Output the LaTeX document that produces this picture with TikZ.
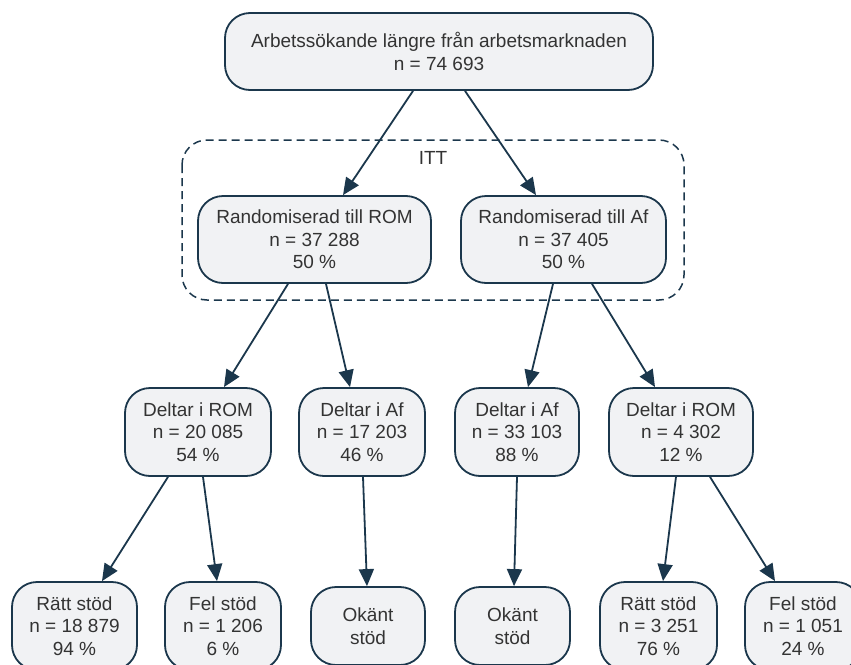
\documentclass[tikz,border=0pt]{standalone}
\usepackage{fontspec}
\setmainfont{Liberation Sans}
\usepackage{tikz}
\usetikzlibrary{arrows.meta}
\definecolor{boxline}{HTML}{1B374C}
\definecolor{boxfill}{HTML}{F1F2F4}
\definecolor{boxtext}{HTML}{333333}

\begin{document}
\begin{tikzpicture}[x=1pt,y=-1pt,
	box/.style={draw=boxline,fill=boxfill,text=boxtext,line width=1.8pt,rounded corners=25pt,
		align=center,inner sep=0pt,font=\fontsize{19}{22.5}\selectfont},
	link/.style={draw=boxline,line width=1.8pt,-{Triangle[length=17pt,width=15pt]}}]

	\useasboundingbox (0,0) rectangle (851,664);

	% ITT group

	\draw[boxline,line width=1.5pt,dash pattern=on 8pt off 5pt,rounded corners=25pt] (182,140) rectangle (684,300);
	\node[text=boxtext,font=\fontsize{19}{22.5}\selectfont] (itt) at (433,158) {ITT};

	% boxes

	\node[box,minimum width=428pt,minimum height=77pt] (top) at (439,51.5) {Arbetssökande längre från arbetsmarknaden\\n = 74 693};

	\node[box,minimum width=233pt,minimum height=87pt] (rom) at (314.5,239.5) {Randomiserad till ROM\\n = 37 288\\50 \%};
	\node[box,minimum width=205pt,minimum height=87pt] (af) at (563.5,239.5) {Randomiserad till Af\\n = 37 405\\50 \%};

	\node[box,minimum width=146pt,minimum height=88pt] (dromA) at (198,432) {Deltar i ROM\\n = 20 085\\54 \%};
	\node[box,minimum width=126pt,minimum height=88pt] (dafA) at (362,432) {Deltar i Af\\n = 17 203\\46 \%};
	\node[box,minimum width=124pt,minimum height=88pt] (dafB) at (517,432) {Deltar i Af\\n = 33 103\\88 \%};
	\node[box,minimum width=144pt,minimum height=88pt] (dromB) at (681,432) {Deltar i ROM\\n = 4 302\\12 \%};

	\node[box,minimum width=125pt,minimum height=88pt] (rattA) at (74.5,626) {Rätt stöd\\n = 18 879\\94 \%};
	\node[box,minimum width=116pt,minimum height=88pt] (felA) at (223,626) {Fel stöd\\n = 1 206\\6 \%};
	\node[box,minimum width=114pt,minimum height=78pt] (okandA) at (368,626) {Okänt\\stöd};
	\node[box,minimum width=115pt,minimum height=78pt] (okandB) at (512.5,626) {Okänt\\stöd};
	\node[box,minimum width=117pt,minimum height=88pt] (rattB) at (658.5,626) {Rätt stöd\\n = 3 251\\76 \%};
	\node[box,minimum width=116pt,minimum height=88pt] (felB) at (803,626) {Fel stöd\\n = 1 051\\24 \%};

	% arrows

	\draw[link] ([xshift=-26pt]top.south) -- ([xshift=28.5pt]rom.north);
	\draw[link] ([xshift=26pt]top.south) -- ([xshift=-27.5pt]af.north);

	\draw[link] ([xshift=-26.5pt]rom.south) -- ([xshift=26pt]dromA.north);
	\draw[link] ([xshift=11.5pt]rom.south) -- ([xshift=-12pt]dafA.north);
	\draw[link] ([xshift=-10.5pt]af.south) -- ([xshift=11pt]dafB.north);
	\draw[link] ([xshift=28.5pt]af.south) -- ([xshift=-26pt]dromB.north);

	\draw[link] ([xshift=-30pt]dromA.south) -- ([xshift=27.5pt]rattA.north);
	\draw[link] ([xshift=5pt]dromA.south) -- ([xshift=-6pt]felA.north);
	\draw[link] ([xshift=1pt]dafA.south) -- ([xshift=-1pt]okandA.north);
	\draw[link] (dafB.south) -- ([xshift=1.5pt]okandB.north);
	\draw[link] ([xshift=-5pt]dromB.south) -- ([xshift=4.5pt]rattB.north);
	\draw[link] ([xshift=29pt]dromB.south) -- ([xshift=-28pt]felB.north);

\end{tikzpicture}
\end{document}
